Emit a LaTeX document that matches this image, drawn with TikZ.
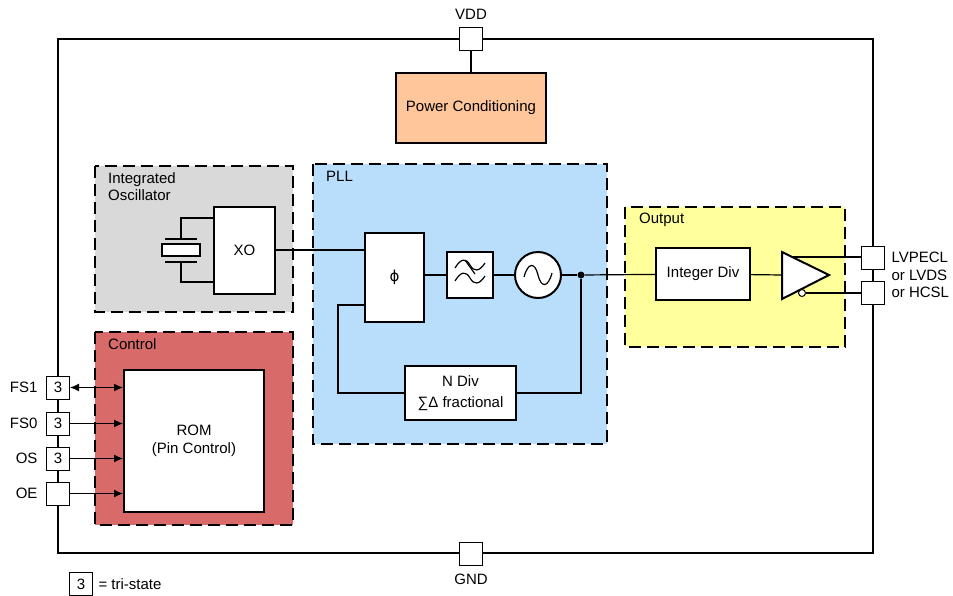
\documentclass[tikz,border=0pt]{standalone}
\usepackage{fontspec}
\setmainfont{Liberation Sans}
\newfontfamily\symfont{DejaVu Sans}
\usetikzlibrary{arrows.meta,positioning}

\definecolor{oscgray}{HTML}{D9D9D9}
\definecolor{pllblue}{HTML}{B9DEFC}
\definecolor{outyellow}{HTML}{FFFF9C}
\definecolor{ctrlred}{HTML}{D86A6A}
\definecolor{pwrorange}{HTML}{FFC69C}

\begin{document}
\begin{tikzpicture}[x=1pt, y=-1pt, font=\fontsize{15}{17.5}\selectfont,
    blk/.style = {draw, line width=2pt, fill=white, inner sep=0pt},
    pin/.style = {draw, line width=1pt, fill=white, minimum size=23pt, inner sep=0pt},
    area/.style = {draw, line width=2.5pt, dash pattern=on 12pt off 6pt},
    wire/.style = {line width=1.2pt},
    sig/.style = {wire, -{Latex[length=9pt,width=8pt]}}]
    \useasboundingbox (0,0) rectangle (953,595);

    % dashed areas
    \draw[area, fill=oscgray] (95,166) rectangle (293,312);
    \draw[area, fill=pllblue] (313,164) rectangle (607,444);
    \draw[area, fill=outyellow] (625,207) rectangle (845,347);
    \draw[area, fill=ctrlred] (95,332) rectangle (293,525);
    \node[anchor=north west, align=left, inner sep=0pt] (osclbl) at (108,172) {Integrated\\Oscillator};
    \node[anchor=north west, inner sep=0pt] (plllbl) at (326,171) {PLL};
    \node[anchor=north west, inner sep=0pt] (outlbl) at (639,213) {Output};
    \node[anchor=north west, inner sep=0pt] (ctrllbl) at (108,338) {Control};

    % chip outline and pins
    \draw[line width=2pt] (58,39) rectangle (873,553);
    \node[pin] (vdd) at (471,39) {};
    \node[pin] (gnd) at (471,554) {};
    \node[above=4pt of vdd] {VDD};
    \node[below=4pt of gnd] {GND};
    \node[pin] (outp) at (873,257.5) {};
    \node[pin] (outn) at (873,292.5) {};
    \node[anchor=west, align=left] (outlbls) at (888,275) {LVPECL\\or LVDS\\or HCSL};
    \node[pin] (fs1) at (58,387.5) {3};
    \node[pin] (fs0) at (58,423.5) {3};
    \node[pin] (os) at (58,458.5) {3};
    \node[pin] (oe) at (58,493.5) {};
    \node[left=5pt of fs1] {FS1};
    \node[left=5pt of fs0] {FS0};
    \node[left=5pt of os] {OS};
    \node[left=5pt of oe] {OE};
    \node[pin] (key) at (81,584) {3};
    \node[right=2pt of key] {= tri-state};

    % blocks
    \node[blk, fill=pwrorange, minimum width=150pt, minimum height=70pt] (pwr) at (471,108) {Power Conditioning};
    \node[blk, minimum width=61pt, minimum height=87pt] (xo) at (244.5,250) {XO};
    \node[blk, minimum width=59pt, minimum height=89pt] (pd) at (394.5,277.5) {\symfont ϕ};
    \node[blk, minimum size=46pt] (lpf) at (470,275) {};
    \node[blk, circle, minimum size=46pt] (vco) at (538,275) {};
    \node[circle, fill, inner sep=0pt, minimum size=7pt] (split) at (581,275) {};
    \node[blk, minimum width=111pt, minimum height=54pt, align=center] (ndiv) at (460.5,393) {N Div\\[4pt]∑Δ fractional};
    \node[blk, minimum width=94pt, minimum height=52pt] (idiv) at (703,274) {Integer Div};
    \node[blk, minimum width=140pt, minimum height=142pt, align=center] (rom) at (194,441) {ROM\\(Pin Control)};

    % crystal
    \draw[wire] (xo.west |- 0,218) -| (181,239);
    \draw[wire] (xo.west |- 0,282) -| (181,262);
    \draw[wire] (165,239) -- (197,239);
    \draw[wire] (165,262) -- (197,262);
    \draw[wire, fill=white] (162,244) rectangle (200,256);

    % filter and vco symbols
    \draw[wire] (455,268) .. controls (461,258) and (466,258) .. (470,265) .. controls (474,272) and (479,272) .. (485,263);
    \draw[wire] (455,281) .. controls (461,271) and (466,271) .. (470,278) .. controls (474,285) and (479,285) .. (485,276);
    \draw[wire] (465,260) -- (475,274);
    \draw[wire] (524,277) .. controls (528,262) and (535,262) .. (538,275) .. controls (541,288) and (548,288) .. (552,273);

    % output buffer
    \draw[line width=2pt, fill=white] (782,252) -- (829,275) -- (782,299) -- cycle;
    \coordinate (bufin) at (782,275);
    \coordinate (bufp) at (792,257);
    \node[draw, circle, fill=white, line width=1pt, inner sep=0pt, minimum size=7pt] (bub) at (802,293) {};

    % wires
    \draw[wire] (vdd) -- (pwr);
    \draw[wire] (xo.east) -- (pd.west |- xo.east);
    \draw[wire] (pd.east |- lpf) -- (lpf);
    \draw[wire] (lpf) -- (vco);
    \draw[wire] (vco) -- (split);
    \draw[wire] (split) -- (idiv);
    \draw[wire] (split) |- (ndiv);
    \draw[wire] (ndiv) -| (338,305) -- (pd.west |- 0,305);
    \draw[wire] (idiv) -- (bufin);
    \draw[wire] (bufp) -- (bufp -| outp.west);
    \draw[wire] (bub) -- (bub -| outn.west);
    \draw[wire, {Latex[length=9pt,width=8pt]}-{Latex[length=9pt,width=8pt]}] (fs1) -- (fs1 -| rom.west);
    \draw[sig] (fs0) -- (fs0 -| rom.west);
    \draw[sig] (os) -- (os -| rom.west);
    \draw[sig] (oe) -- (oe -| rom.west);
\end{tikzpicture}
\end{document}
